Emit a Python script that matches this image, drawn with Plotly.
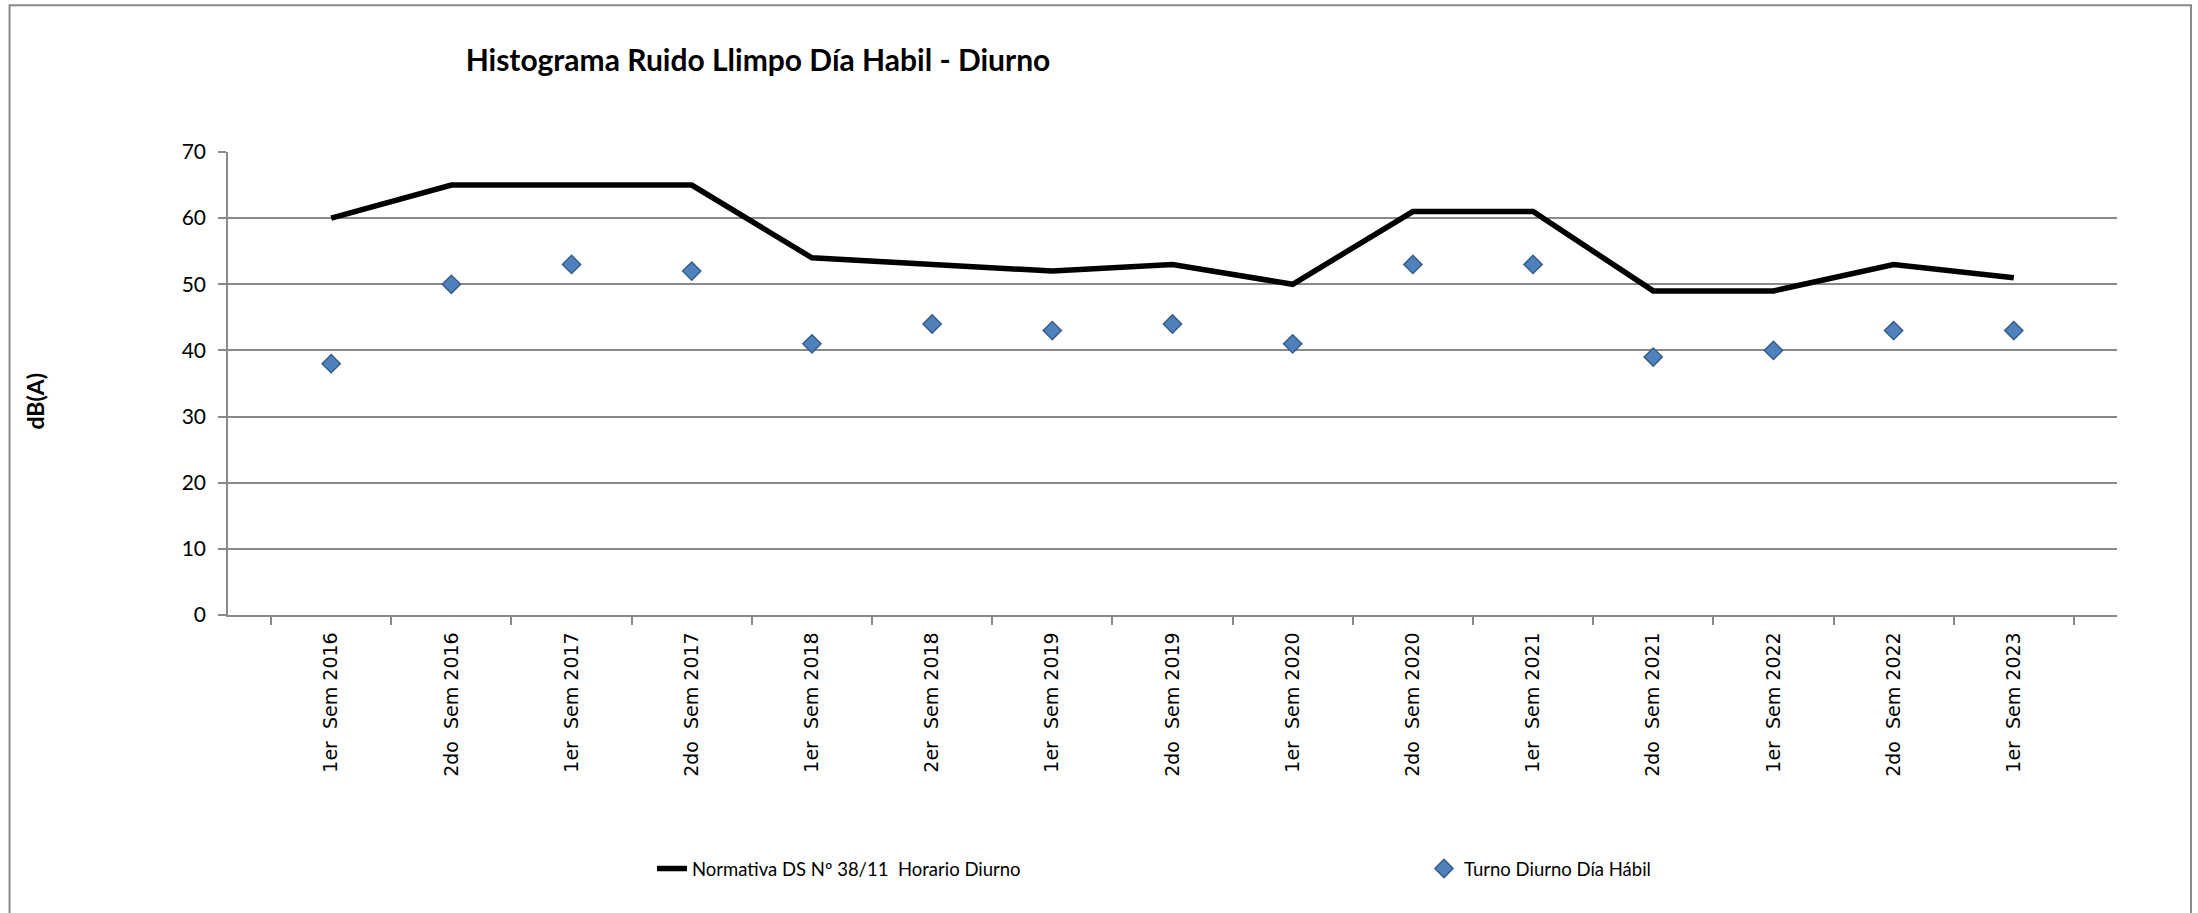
import plotly.graph_objects as go

categories = ["1er  Sem 2016", "2do  Sem 2016", "1er  Sem 2017", "2do  Sem 2017",
              "1er  Sem 2018", "2er  Sem 2018", "1er  Sem 2019", "2do  Sem 2019",
              "1er  Sem 2020", "2do  Sem 2020", "1er  Sem 2021", "2do  Sem 2021",
              "1er  Sem 2022", "2do  Sem 2022", "1er  Sem 2023"]
normativa = [60, 65, 65, 65, 54, 53, 52, 53, 50, 61, 61, 49, 49, 53, 51]
turno = [38, 50, 53, 52, 41, 44, 43, 44, 41, 53, 53, 39, 40, 43, 43]
y_ticks = [0, 10, 20, 30, 40, 50, 60, 70]

W, H = 2198, 913
L, R, T, B = 227.5, 81, 151.5, 297.5
PW, PH = W - L - R, H - T - B

def px_x(x):
    return (x - L) / PW

def px_y(y):
    return (H - B - y) / PH

GRAY = "#898989"
CAL = "Lato, 'Liberation Sans', sans-serif"

fig = go.Figure()
fig.add_trace(go.Scatter(
    x=categories, y=normativa, mode="lines", name="Normativa DS Nº 38/11  Horario Diurno",
    line=dict(color="black", width=5.5), legend="legend"))
fig.add_trace(go.Scatter(
    x=categories, y=turno, mode="markers", name="Turno Diurno Día Hábil",
    marker=dict(symbol="diamond", size=14, color="#4F81BD",
                line=dict(color="#385D8A", width=1.5)), legend="legend2"))

fig.update_layout(
    width=W, height=H,
    margin=dict(l=L, r=R, t=T, b=B, autoexpand=False),
    paper_bgcolor="white", plot_bgcolor="white",
    title=dict(text="<b>Histograma Ruido Llimpo Día Habil - Diurno</b>",
               font=dict(family=CAL, size=30, color="black"),
               xref="container", yref="container", x=758 / W, y=1 - 60 / H,
               xanchor="center", yanchor="middle"),
    xaxis=dict(type="category", tickson="boundaries", ticks="outside", ticklen=8,
               tickwidth=1.5, tickcolor=GRAY, showline=True, linecolor=GRAY, linewidth=1.5,
               showgrid=False, tickangle=-90, automargin=False,
               tickfont=dict(family="DejaVu Sans", size=19, color="black"),
               ticklabelstandoff=8),
    yaxis=dict(range=[0, 70], tickvals=y_ticks, ticks="outside", ticklen=8,
               tickwidth=1.5, tickcolor=GRAY, showline=True, linecolor=GRAY, linewidth=1.5,
               showgrid=True, gridcolor=GRAY, gridwidth=1.5, zeroline=False, automargin=False,
               tickfont=dict(family=CAL, size=21, color="black"),
               ticklabelstandoff=8),
    legend=dict(orientation="h", xref="container", yref="container",
                x=652 / W, y=1 - 869 / H, xanchor="left", yanchor="middle",
                font=dict(family=CAL, size=18.5, color="black"), bgcolor="rgba(0,0,0,0)"),
    legend2=dict(orientation="h", xref="container", yref="container",
                 x=1424 / W, y=1 - 869 / H, xanchor="left", yanchor="middle",
                 font=dict(family=CAL, size=18.5, color="black"), bgcolor="rgba(0,0,0,0)"),
    showlegend=True,
    annotations=[dict(text="<b>dB(A)</b>", textangle=-90, xref="paper", yref="paper",
                      x=px_x(34), y=px_y(401), xanchor="center", yanchor="middle",
                      showarrow=False, font=dict(family=CAL, size=23, color="black"))],
    shapes=[dict(type="rect", xref="paper", yref="paper",
                 x0=px_x(9), x1=px_x(2191), y0=px_y(918), y1=px_y(4.5),
                 line=dict(color=GRAY, width=2), fillcolor="rgba(0,0,0,0)", layer="below")],
)

fig.write_html("out.html", config={"displayModeBar": False},
               post_script="document.body.style.margin='0';")
